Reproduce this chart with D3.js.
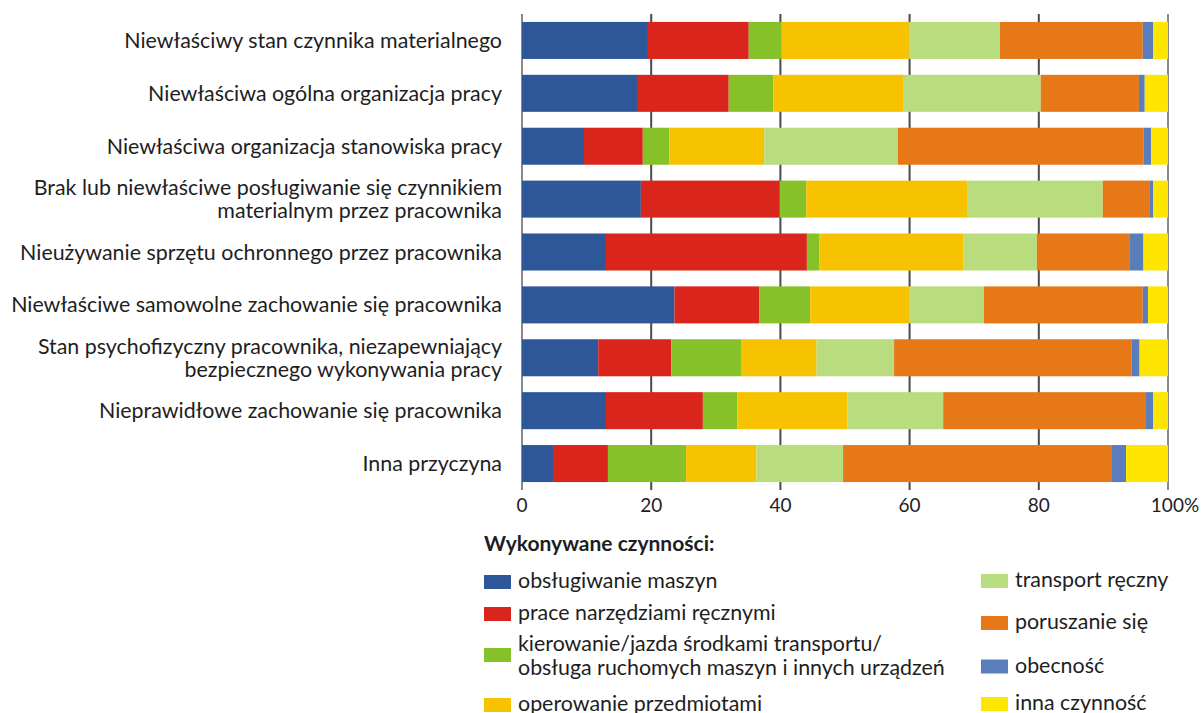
<!DOCTYPE html>
<html>
<head>
<meta charset="utf-8">
<script src="https://cdn.jsdelivr.net/npm/d3@7"></script>
<style>
  body { margin: 0; background: #fff; }
  text { font-family: Lato, "Noto Sans", sans-serif; fill: #1e1e1e; }
</style>
</head>
<body>
<svg id="chart" width="1203" height="713"></svg>
<script>
// causes (rows, top to bottom)
const categories = [
    ["Niewłaściwy stan czynnika materialnego"],
    ["Niewłaściwa ogólna organizacja pracy"],
    ["Niewłaściwa organizacja stanowiska pracy"],
    ["Brak lub niewłaściwe posługiwanie się czynnikiem", "materialnym przez pracownika"],
    ["Nieużywanie sprzętu ochronnego przez pracownika"],
    ["Niewłaściwe samowolne zachowanie się pracownika"],
    ["Stan psychofizyczny pracownika, niezapewniający", "bezpiecznego wykonywania pracy"],
    ["Nieprawidłowe zachowanie się pracownika"],
    ["Inna przyczyna"]
];

// activities (stack order)
const seriesNames = [
    "obsługiwanie maszyn",
    "prace narzędziami ręcznymi",
    "kierowanie/jazda środkami transportu/\nobsługa ruchomych maszyn i innych urządzeń",
    "operowanie przedmiotami",
    "transport ręczny",
    "poruszanie się",
    "obecność",
    "inna czynność"
];
const seriesColors = ["#2e5799", "#da251d", "#86c129", "#f7c200", "#b9dc7e", "#e77817", "#5a7ebb", "#ffe600"];

// shares in %, one array per activity, rows in category order
const obslugiwanie = [19.5, 17.8, 9.6, 18.4, 13.0, 23.6, 11.8, 13.0, 4.8];
const narzedzia    = [15.6, 14.2, 9.1, 21.5, 31.1, 13.1, 11.3, 15.0, 8.5];
const kierowanie   = [5.1, 6.9, 4.1, 4.1, 1.9, 7.9, 10.8, 5.3, 12.1];
const operowanie   = [19.7, 20.2, 14.7, 24.9, 22.3, 15.3, 11.7, 17.1, 10.9];
const transport    = [14.1, 21.2, 20.7, 21.0, 11.4, 11.6, 12.0, 14.8, 13.4];
const poruszanie   = [22.1, 15.2, 38.0, 7.3, 14.3, 24.6, 36.8, 31.4, 41.5];
const obecnosc     = [1.6, 0.9, 1.2, 0.5, 2.2, 0.8, 1.2, 1.1, 2.3];
const inna         = [2.3, 3.6, 2.6, 2.3, 3.8, 3.1, 4.4, 2.3, 6.5];

const xTicks = [0, 20, 40, 60, 80, 100];
const legendTitle = "Wykonywane czynności:";

const seriesValues = [obslugiwanie, narzedzia, kierowanie, operowanie, transport, poruszanie, obecnosc, inna];

const svg = d3.select("#chart");

const rows = categories.map((c, i) => {
    const r = { key: i };
    seriesValues.forEach((vals, s) => { r["s" + s] = vals[i]; });
    return r;
});
const keys = seriesValues.map((v, s) => "s" + s);
const stacked = d3.stack().keys(keys)
    .offset(d3.stackOffsetExpand)(rows);

const x = d3.scaleLinear().domain([0, 1]).range([522, 1168]);
const y = d3.scaleBand()
    .domain(d3.range(categories.length))
    .range([14, 490])
    .paddingInner(0.3)
    .paddingOuter(0.15);

// grid lines behind the bars
svg.append("g")
    .selectAll("line")
    .data(xTicks)
    .join("line")
    .attr("x1", d => x(d / 100))
    .attr("x2", d => x(d / 100))
    .attr("y1", 14)
    .attr("y2", 490)
    .attr("stroke", d => (d === 0 || d === 100) ? "#8a8a8a" : "#4a4a4a")
    .attr("stroke-width", 2);

svg.append("g")
    .selectAll("g")
    .data(stacked)
    .join("g")
    .attr("fill", (d, i) => seriesColors[i])
    .selectAll("rect")
    .data(d => d)
    .join("rect")
    .attr("x", d => x(d[0]))
    .attr("width", d => x(d[1]) - x(d[0]))
    .attr("y", d => y(d.data.key))
    .attr("height", y.bandwidth());

// tick labels
svg.append("g")
    .selectAll("text")
    .data(xTicks)
    .join("text")
    .attr("x", d => x(d / 100) + (d === 100 ? 7 : 0))
    .attr("y", 512)
    .attr("text-anchor", "middle")
    .style("font-size", "19px")
    .text(d => d === 100 ? "100%" : d);

// category labels
const lineH = 23.5;
svg.append("g")
    .selectAll("text")
    .data(categories)
    .join("text")
    .attr("text-anchor", "end")
    .style("font-size", "21.4px")
    .each(function(lines, i) {
        const cy = y(i) + y.bandwidth() / 2;
        const t = d3.select(this);
        lines.forEach((ln, k) => {
            t.append("tspan")
                .attr("x", 502)
                .attr("y", cy + 7.5 + (k - (lines.length - 1) / 2) * lineH)
                .text(ln);
        });
    });

// legend
const legend = svg.append("g");
legend.append("text")
    .attr("x", 484)
    .attr("y", 551)
    .style("font-size", "21px")
    .style("font-weight", "bold")
    .text(legendTitle);

const legendPos = [
    [484, 582], [484, 614], [484, 655], [484, 705],
    [981, 581], [981, 623], [981, 666.5], [981, 704]
];
seriesNames.forEach((name, i) => {
    const [lx, ly] = legendPos[i];
    legend.append("rect")
        .attr("x", lx)
        .attr("y", ly - 7)
        .attr("width", 27)
        .attr("height", 14)
        .attr("fill", seriesColors[i]);
    const lines = name.split("\n");
    const t = legend.append("text").style("font-size", "21.4px");
    lines.forEach((ln, k) => {
        t.append("tspan")
            .attr("x", lx + 34)
            .attr("y", lines.length > 1 ? ly - 4 + k * 23.5 : ly + 6)
            .text(ln);
    });
});
</script>
</body>
</html>
